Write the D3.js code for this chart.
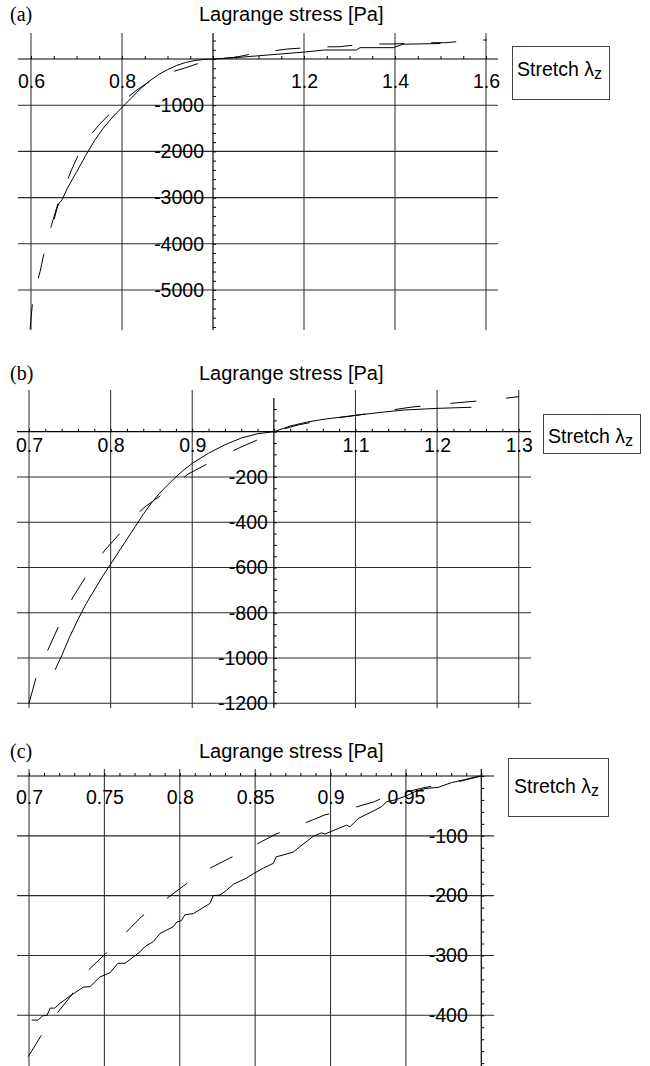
<!DOCTYPE html>
<html>
<head>
<meta charset="utf-8">
<script src="https://cdn.jsdelivr.net/npm/d3@7"></script>
<style>
  html, body { margin: 0; padding: 0; background: #fff; }
  svg { display: block; }
  .tick-label { font-family: "Liberation Sans", Arial, sans-serif; font-size: 19.5px; fill: #000; }
  .title { font-family: "Liberation Sans", Arial, sans-serif; font-size: 20px; fill: #000; }
  .panel-tag { font-family: "Liberation Serif", "Times New Roman", serif; font-size: 20px; fill: #000; }
</style>
</head>
<body>
<div id="chart"></div>
<script>
// ---- data: [stretch, Lagrange stress in Pa] ----
const aSolid = [[0.651,-3463],[0.658,-3200],[0.662,-3120],[0.668,-3050],[0.68,-2800],[0.69,-2620],[0.70,-2450],
  [0.71,-2270],[0.72,-2090],[0.74,-1760],[0.76,-1480],[0.78,-1250],[0.80,-1050],[0.82,-850],[0.84,-650],
  [0.86,-480],[0.88,-340],[0.90,-230],[0.92,-140],[0.94,-75],[0.96,-32],[0.98,-10],[1.0,0],
  [1.05,30],[1.1,70],[1.15,110],[1.2,150],[1.245,195],[1.315,195],[1.323,245],[1.396,245],[1.418,320],[1.5,335]];
const aDashed = [[0.598,-5850],[0.604,-5200],[0.612,-4900],[0.620,-4600],[0.631,-4100],[0.645,-3600],[0.66,-3100],
  [0.675,-2750],[0.689,-2400],[0.711,-1930],[0.73,-1660],[0.749,-1430],[0.77,-1220],[0.789,-1040],[0.81,-850],
  [0.833,-670],[0.855,-520],[0.879,-390],[0.91,-280],[0.938,-195],[0.965,-105],[0.989,-22],[1.0,0],
  [1.015,5],[1.053,43],[1.08,100],[1.11,150],[1.163,216],[1.2,240],[1.246,262],[1.279,266],[1.3,290],
  [1.345,325],[1.396,325],[1.43,340],[1.459,353],[1.512,353],[1.54,380],[1.571,411],[1.602,411]];

const bSolid = [[0.732,-1052],[0.74,-990],[0.75,-905],[0.76,-830],[0.77,-760],[0.78,-700],[0.79,-640],[0.80,-585],
  [0.81,-530],[0.82,-475],[0.83,-420],[0.84,-365],[0.85,-315],[0.86,-272],[0.87,-235],[0.88,-200],[0.89,-168],
  [0.90,-140],[0.92,-95],[0.94,-58],[0.96,-28],[0.98,-9],[1.0,0],[1.02,25],[1.04,42],[1.063,56],[1.1,72],
  [1.13,85],[1.16,96],[1.2,103],[1.242,108]];
const bDashed = [[0.70,-1200],[0.709,-1082],[0.725,-949],[0.738,-846],[0.754,-730],[0.771,-633],[0.793,-523],
  [0.815,-435],[0.84,-338],[0.865,-272],[0.895,-187],[0.924,-132],[0.9565,-73],[0.987,-25],[1.0,0],[1.03,30],
  [1.065,55],[1.1,72],[1.13,88],[1.167,108],[1.2,120],[1.238,132],[1.273,143],[1.3,155]];

const cSolid = [[0.7018,-408],[0.706,-408],[0.709,-401],[0.712,-400],[0.714,-388],[0.717,-388],[0.7206,-380],
  [0.727,-368],[0.736,-353],[0.7405,-352],[0.747,-336],[0.7537,-329],[0.759,-313],[0.7637,-313],[0.7736,-294],
  [0.777,-285],[0.7824,-277],[0.787,-263],[0.7957,-252],[0.798,-244],[0.801,-242],[0.8034,-232],[0.809,-230],
  [0.82,-213],[0.8222,-200],[0.8267,-199],[0.831,-191],[0.8355,-181],[0.844,-171],[0.849,-163],[0.8554,-154],
  [0.862,-146],[0.864,-135],[0.8687,-132],[0.8753,-127],[0.8797,-118],[0.8885,-101],[0.894,-95],[0.8963,-97],
  [0.903,-90],[0.9107,-82],[0.9129,-85],[0.9184,-71],[0.9295,-57],[0.934,-51],[0.9372,-43],[0.9427,-40],
  [0.9505,-33],[0.956,-26],[0.9626,-21],[0.9714,-19],[0.9803,-11],[0.9891,-6],[0.999,0]];
const cDashed = [[0.6995,-469],[0.7078,-435],[0.7188,-396],[0.7283,-366],[0.7387,-326],[0.7504,-298],
  [0.7637,-263],[0.7747,-235],[0.7897,-208],[0.8023,-184],[0.8178,-157],[0.8326,-138],[0.8487,-117],
  [0.8638,-97],[0.8797,-82],[0.8963,-65],[0.914,-54],[0.929,-43],[0.936,-35],[0.963,-19],[0.984,-10],[1.0,0]];

// ---- tick labels ----
const aXTicks = [0.6, 0.8, 1.2, 1.4, 1.6];
const aYTicks = [-1000, -2000, -3000, -4000, -5000];
const bXTicks = [0.7, 0.8, 0.9, 1.1, 1.2, 1.3];
const bYTicks = [-200, -400, -600, -800, -1000, -1200];
const cXTicks = [0.7, 0.75, 0.8, 0.85, 0.9, 0.95];
const cYTicks = [-100, -200, -300, -400];

const title = "Lagrange stress [Pa]";

// ---- layout per panel (pixel anchors for scales, extents, text offsets) ----
const panels = [
  { tag: "(a)", solid: aSolid, dashed: aDashed, xTicks: aXTicks, yTicks: aYTicks,
    xMinorStep: 0.05, yMinorStep: 200,
    xDom: [0.6, 1.6], xPix: [31, 486], yDom: [0, -5000], yPix: [59, 290],
    left: 18, right: 498, top: 33, bottom: 330, axisTop: 33,
    xPad: 15, yPad: 9, titleY: 21, dash: "25,27",
    legend: { x: 512, y: 46, w: 97, h: 53, tx: 517, ty: 76 } },
  { tag: "(b)", solid: bSolid, dashed: bDashed, xTicks: bXTicks, yTicks: bYTicks,
    xMinorStep: 0.02, yMinorStep: 50,
    xDom: [0.7, 1.3], xPix: [29, 518.7], yDom: [0, -1200], yPix: [431.7, 703.3],
    left: 17, right: 531, top: 390, bottom: 708, axisTop: 398,
    xPad: 6.5, yPad: 6, titleY: 380, dash: "26,30",
    legend: { x: 543, y: 414, w: 97, h: 39, tx: 548, ty: 443 } },
  { tag: "(c)", solid: cSolid, dashed: cDashed, xTicks: cXTicks, yTicks: cYTicks,
    xMinorStep: 0.01, yMinorStep: 20,
    xDom: [0.7, 1.0], xPix: [29, 481.3], yDom: [0, -400], yPix: [776, 1015.3],
    left: 17, right: 494, top: 769, bottom: 1066, axisTop: 769,
    xPad: 14, yPad: 13.5, titleY: 758, dash: "25,28",
    legend: { x: 508, y: 758, w: 100, h: 58, tx: 514, ty: 793 } }
];

const svg = d3.select("#chart").append("svg")
  .attr("width", 650).attr("height", 1066);

// plain hyphen for negatives, like the original
const fmt = d => String(d);

function drawPanel(p) {
  const g = svg.append("g");
  const x = d3.scaleLinear().domain(p.xDom).range(p.xPix);
  const y = d3.scaleLinear().domain(p.yDom).range(p.yPix);
  const xMin = x.invert(p.left), xMax = x.invert(p.right);
  const yMin = y.invert(p.bottom);

  // gridlines
  g.selectAll(".vgrid").data(p.xTicks).join("line")
    .attr("x1", d => x(d)).attr("x2", d => x(d))
    .attr("y1", p.top).attr("y2", p.bottom)
    .attr("stroke", "#3a3a3a").attr("stroke-width", 1.1);
  g.selectAll(".hgrid").data(p.yTicks).join("line")
    .attr("x1", p.left).attr("x2", p.right)
    .attr("y1", d => y(d)).attr("y2", d => y(d))
    .attr("stroke", "#2a2a2a").attr("stroke-width", 1.1);

  // axes
  g.append("line").attr("x1", p.left).attr("x2", p.right)
    .attr("y1", y(0)).attr("y2", y(0)).attr("stroke", "#000").attr("stroke-width", 1.2);
  g.append("line").attr("x1", x(1)).attr("x2", x(1))
    .attr("y1", p.axisTop).attr("y2", p.bottom).attr("stroke", "#000").attr("stroke-width", 1.2);

  // minor ticks
  const xMinor = d3.range(Math.ceil(xMin / p.xMinorStep), Math.floor(xMax / p.xMinorStep) + 1)
    .map(i => +(i * p.xMinorStep).toFixed(4));
  const yMinor = d3.range(Math.ceil(yMin / p.yMinorStep), Math.floor(y.invert(p.axisTop) / p.yMinorStep) + 1)
    .map(i => i * p.yMinorStep);
  g.append("g").attr("transform", `translate(0,${y(0)})`)
    .call(d3.axisTop(x).tickValues(xMinor).tickSize(3).tickFormat(""))
    .call(s => s.select(".domain").remove())
    .call(s => s.selectAll("line").attr("stroke", "#000"));
  g.append("g").attr("transform", `translate(${x(1)},0)`)
    .call(d3.axisRight(y).tickValues(yMinor).tickSize(3).tickFormat(""))
    .call(s => s.select(".domain").remove())
    .call(s => s.selectAll("line").attr("stroke", "#000"));

  // tick labels
  const xl = g.append("g").attr("transform", `translate(0,${y(0)})`)
    .call(d3.axisBottom(x).tickValues(p.xTicks).tickSize(0).tickPadding(p.xPad).tickFormat(fmt));
  xl.select(".domain").remove();
  xl.selectAll("text").attr("class", "tick-label");
  xl.attr("font-size", null).attr("font-family", null);

  const yl = g.append("g").attr("transform", `translate(${x(1)},0)`)
    .call(d3.axisLeft(y).tickValues(p.yTicks).tickSize(0).tickPadding(p.yPad).tickFormat(fmt));
  yl.select(".domain").remove();
  yl.selectAll("text").attr("class", "tick-label");
  yl.attr("font-size", null).attr("font-family", null);

  // curves
  const line = d3.line().x(d => x(d[0])).y(d => y(d[1]));
  g.append("path").datum(p.solid).attr("d", line)
    .attr("fill", "none").attr("stroke", "#000").attr("stroke-width", 1);
  g.append("path").datum(p.dashed).attr("d", line)
    .attr("fill", "none").attr("stroke", "#000").attr("stroke-width", 1)
    .attr("stroke-dasharray", p.dash);

  // titles
  g.append("text").attr("class", "panel-tag").attr("x", 10).attr("y", p.titleY).text(p.tag);
  g.append("text").attr("class", "title").attr("x", 199).attr("y", p.titleY).text(title);

  // axis label box
  const L = p.legend;
  g.append("rect").attr("x", L.x + 0.5).attr("y", L.y + 0.5).attr("width", L.w).attr("height", L.h)
    .attr("fill", "#fff").attr("stroke", "#444").attr("stroke-width", 1);
  const t = g.append("text").attr("class", "tick-label").attr("x", L.tx).attr("y", L.ty);
  t.append("tspan").text("Stretch \u03bb");
  t.append("tspan").attr("dy", 3).attr("font-size", 16).text("z");
}

panels.forEach(drawPanel);
</script>
</body>
</html>
